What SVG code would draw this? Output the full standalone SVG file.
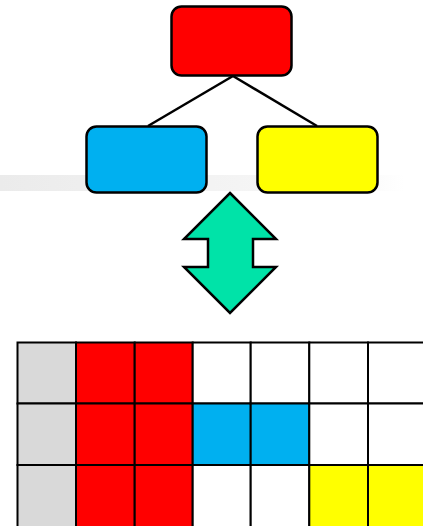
<svg xmlns="http://www.w3.org/2000/svg" width="423" height="526" viewBox="0 0 423 526">
<defs>
<linearGradient id="band" x1="0" y1="0" x2="1" y2="0">
<stop offset="0" stop-color="#ebebeb"/>
<stop offset="0.85" stop-color="#f8f8f8"/>
<stop offset="1" stop-color="#ffffff"/>
</linearGradient>
</defs>
<style>
.node{stroke:#000;stroke-width:2.5}
.conn{stroke:#000;stroke-width:2.5;fill:none}
.cell{stroke:#000;stroke-width:2}
</style>
<rect x="0" y="175" width="405" height="16" fill="url(#band)"/>
<g id="connectors">
<line class="conn" x1="233" y1="76" x2="148" y2="126"/>
<line class="conn" x1="233" y1="76" x2="317" y2="126"/>
</g>
<g id="root"><rect class="node" x="171.5" y="6.5" width="120" height="69" rx="10" fill="#ff0000"/></g>
<g id="left"><rect class="node" x="86.5" y="126.5" width="120" height="66" rx="10" fill="#00b0f0"/></g>
<g id="right"><rect class="node" x="257.5" y="126.5" width="120" height="66" rx="10" fill="#ffff00"/></g>
<g id="arrow"><polygon class="node" fill="#00e3a8" points="230,193 276,239 253,239 253,267 276,267 230,313 184,267 208,267 208,239 184,239"/></g>
<g id="grid">
<rect class="cell" x="17.5" y="342.5" width="58.5" height="61" fill="#d9d9d9"/>
<rect class="cell" x="17.5" y="403.5" width="58.5" height="61.5" fill="#d9d9d9"/>
<rect class="cell" x="17.5" y="465" width="58.5" height="62" fill="#d9d9d9"/>
<rect class="cell" x="76" y="342.5" width="58.7" height="61" fill="#ff0000"/>
<rect class="cell" x="76" y="403.5" width="58.7" height="61.5" fill="#ff0000"/>
<rect class="cell" x="76" y="465" width="58.7" height="62" fill="#ff0000"/>
<rect class="cell" x="134.7" y="342.5" width="58" height="61" fill="#ff0000"/>
<rect class="cell" x="134.7" y="403.5" width="58" height="61.5" fill="#ff0000"/>
<rect class="cell" x="134.7" y="465" width="58" height="62" fill="#ff0000"/>
<rect class="cell" x="192.7" y="342.5" width="58" height="61" fill="#ffffff"/>
<rect class="cell" x="192.7" y="403.5" width="58" height="61.5" fill="#00b0f0"/>
<rect class="cell" x="192.7" y="465" width="58" height="62" fill="#ffffff"/>
<rect class="cell" x="250.7" y="342.5" width="58.6" height="61" fill="#ffffff"/>
<rect class="cell" x="250.7" y="403.5" width="58.6" height="61.5" fill="#00b0f0"/>
<rect class="cell" x="250.7" y="465" width="58.6" height="62" fill="#ffffff"/>
<rect class="cell" x="309.3" y="342.5" width="58.7" height="61" fill="#ffffff"/>
<rect class="cell" x="309.3" y="403.5" width="58.7" height="61.5" fill="#ffffff"/>
<rect class="cell" x="309.3" y="465" width="58.7" height="62" fill="#ffff00"/>
<rect class="cell" x="368" y="342.5" width="58.7" height="61" fill="#ffffff"/>
<rect class="cell" x="368" y="403.5" width="58.7" height="61.5" fill="#ffffff"/>
<rect class="cell" x="368" y="465" width="58.7" height="62" fill="#ffff00"/>
</g>
</svg>
